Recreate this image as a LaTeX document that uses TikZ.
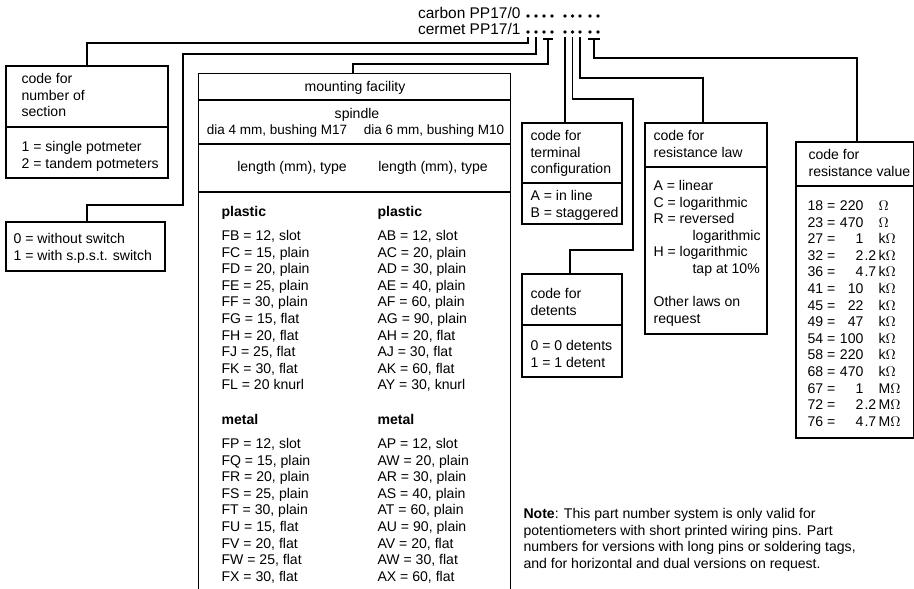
\documentclass[tikz,border=0pt]{standalone}
\usepackage{fontspec}
\setmainfont{Liberation Sans}
\usetikzlibrary{fit}

% text lines of a box, one node per line
\newcommand{\textlines}[4]{%
    \foreach \t [count=\i from 0] in {#4} {
        \node[txt] (#1-\i) at (#2, #3+16.6*\i) {\t};
    }%
}
% horizontal rule across a box
\newcommand{\divider}[2]{\draw (#1.west |- 0,#2) -- (#1.east |- 0,#2);}

\begin{document}
\begin{tikzpicture}[x=0.025cm, y=-0.025cm, line width=0.8pt,
    box/.style={draw, inner sep=0pt},
    txt/.style={inner sep=0pt, text height=7pt, text depth=2pt, anchor=west, font=\fontsize{10}{12}\selectfont},
    head/.style={txt, font=\fontsize{11}{13}\selectfont},
    bold/.style={txt, font=\fontsize{10}{12}\selectfont\bfseries},
    dot/.style={circle, fill, inner sep=0pt, minimum size=2.6pt}]
    \useasboundingbox (0,0) rectangle (914,589);

    % Type number
    \node[head, anchor=east] (carbon) at (521,15) {carbon PP17/0};
    \node[head, anchor=east] (cermet) at (521,31) {cermet PP17/1};
    \foreach \x [count=\i] in {528,536,544,552,565,572.5,580,590,598} {
        \node[dot] (c\i) at (\x,16) {};
        \node[dot] (d\i) at (\x,32) {};
    }

    % Boxes
    \node[box, fit={(6,66) (168,178)}] (section) {};
    \divider{section}{127}
    \node[box, fit={(6,222) (165,271)}] (switch) {};
    \node[fit={(199,74) (510,589)}, inner sep=0pt] (mount) {};
    \draw (mount.south west) |- (mount.north east) -- (mount.south east);
    \divider{mount}{100}
    \divider{mount}{144}
    \divider{mount}{192}
    \node[box, fit={(522,123) (622,224)}] (term) {};
    \divider{term}{183}
    \node[box, fit={(522,274) (622,377)}] (det) {};
    \divider{det}{325}
    \node[box, fit={(645,123) (767,334)}] (law) {};
    \divider{law}{167}
    \node[box, fit={(796,142) (914,438)}] (val) {};
    \divider{val}{186}

    % Connectors
    \coordinate (k1) at (87,43);
    \draw ([yshift=-3.6pt]d1.center) |- (k1) -- (k1 |- section.north);
    \coordinate (k2a) at (183,54);
    \coordinate (k2b) at (87,205);
    \draw ([yshift=-3.6pt]d2.center) |- (k2a) |- (k2b) -- (k2b |- switch.north);
    \coordinate (t1) at (548,39);
    \draw ([xshift=-3.6pt]t1) -- ([xshift=3.6pt]t1);
    \coordinate (k3) at (353,64);
    \draw (t1) |- (k3) -- (k3 |- mount.north);
    \draw ([yshift=-3.6pt]d5.center) -- (d5 |- term.north);
    \coordinate (k5a) at (633,99);
    \coordinate (k5b) at (570,250);
    \draw ([yshift=-3.6pt]d6.center) |- (k5a) |- (k5b) -- (k5b |- det.north);
    \coordinate (k6) at (703,78);
    \draw ([yshift=-3.6pt]d7.center) |- (k6) -- (k6 |- law.north);
    \coordinate (t2) at (594,39);
    \draw ([xshift=-4.2pt]t2) -- ([xshift=4.2pt]t2);
    \coordinate (k7) at (857,58);
    \draw (t2) |- (k7) -- (k7 |- val.north);

    % Section and switch
    \textlines{sec-h}{21}{80}{code for, number of, section}
    \textlines{sec}{21}{148}{1 = single potmeter, 2 = tandem potmeters}
    \textlines{sw}{13}{240}{0 = without switch, 1 = with s.p.s.t. switch}

    % Mounting facility
    \node[txt, anchor=center] (mf) at (355,88) {mounting facility};
    \node[txt, anchor=center] (spindle) at (357,115) {spindle};
    \node[txt, anchor=center, font=\fontsize{9.6}{12}\selectfont] (dia4) at (277,131) {dia 4 mm, bushing M17};
    \node[txt, anchor=center, font=\fontsize{9.6}{12}\selectfont] (dia6) at (434,131) {dia 6 mm, bushing M10};
    \node[txt, anchor=center] (len4) at (292,168) {length (mm), type};
    \node[txt, anchor=center] (len6) at (433,168) {length (mm), type};
    \node[bold] (pl4) at (221,213) {plastic};
    \node[bold] (pl6) at (377,213) {plastic};
    \textlines{pl4}{221}{237}{{FB = 12, slot}, {FC = 15, plain}, {FD = 20, plain}, {FE = 25, plain}, {FF = 30, plain},
        {FG = 15, flat}, {FH = 20, flat}, {FJ = 25, flat}, {FK = 30, flat}, {FL = 20 knurl}}
    \textlines{pl6}{377}{237}{{AB = 12, slot}, {AC = 20, plain}, {AD = 30, plain}, {AE = 40, plain}, {AF = 60, plain},
        {AG = 90, plain}, {AH = 20, flat}, {AJ = 30, flat}, {AK = 60, flat}, {AY = 30, knurl}}
    \node[bold] (me4) at (221,421) {metal};
    \node[bold] (me6) at (377,421) {metal};
    \textlines{me4}{221}{445}{{FP = 12, slot}, {FQ = 15, plain}, {FR = 20, plain}, {FS = 25, plain}, {FT = 30, plain},
        {FU = 15, flat}, {FV = 20, flat}, {FW = 25, flat}, {FX = 30, flat}}
    \textlines{me6}{377}{445}{{AP = 12, slot}, {AW = 20, plain}, {AR = 30, plain}, {AS = 40, plain}, {AT = 60, plain},
        {AU = 90, plain}, {AV = 20, flat}, {AW = 30, flat}, {AX = 60, flat}}

    % Terminal configuration and detents
    \textlines{term-h}{530}{137}{code for, terminal, configuration}
    \textlines{term}{530}{197}{A = in line, B = staggered}
    \textlines{det-h}{530}{295}{code for, detents}
    \textlines{det}{530}{347}{0 = 0 detents, 1 = 1 detent}

    % Resistance law
    \textlines{law-h}{653}{137}{code for, resistance law}
    \node[txt] (law-a) at (653,187) {A = linear};
    \node[txt] (law-c) at (653,203.6) {C = logarithmic};
    \node[txt] (law-r) at (653,220.2) {R = reversed};
    \node[txt] (law-r2) at (692,236.8) {logarithmic};
    \node[txt] (law-h) at (653,253.4) {H = logarithmic};
    \node[txt] (law-h2) at (692,270) {tap at 10\%};
    \textlines{law-o}{653}{303}{Other laws on, request}

    % Resistance value
    \textlines{val-h}{808}{156}{code for, resistance value}
    \foreach \k/\n/\d/\u [count=\i from 0] in {18/220/{}/{}, 23/470/{}/{}, 27/1/{}/k, 32/2/.2/k, 36/4/.7/k,
        41/10/{}/k, 45/22/{}/k, 49/47/{}/k, 54/100/{}/k, 58/220/{}/k, 68/470/{}/k, 67/1/{}/M, 72/2/.2/M, 76/4/.7/M} {
        \node[txt] (val-k\i) at (807, 207+16.6*\i) {\k\ =};
        \node[txt, anchor=east] (val-n\i) at (864, 207+16.6*\i) {\n};
        \node[txt] (val-d\i) at (864, 207+16.6*\i) {\d};
        \node[txt] (val-u\i) at (878, 207+16.6*\i) {\u$\Omega$};
    }

    % Note
    \textlines{note}{523}{515}{{\textbf{Note}: This part number system is only valid for},
        {potentiometers with short printed wiring pins. Part},
        {numbers for versions with long pins or soldering tags,},
        {and for horizontal and dual versions on request.}}
\end{tikzpicture}
\end{document}
